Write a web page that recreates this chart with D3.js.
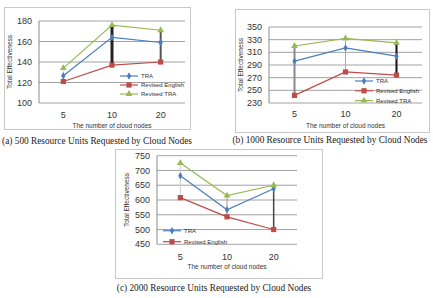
<!DOCTYPE html>
<html><head><meta charset="utf-8">
<script src="https://cdn.jsdelivr.net/npm/d3@7"></script>
<style>body{margin:0;background:#fff}svg{display:block}</style>
</head><body>
<script>
const categories = ["5", "10", "20"];
const seriesNames = ["TRA", "Revised English", "Revised TRA"];
// (a) 500 resource units
const traA = [126.5, 164, 159];
const revEngA = [121, 137, 140];
const revTraA = [134, 176, 171];
const ticksA = [100, 120, 140, 160, 180];
// (b) 1000 resource units
const traB = [296, 317, 304];
const revEngB = [242, 279, 274];
const revTraB = [320, 332, 325];
const ticksB = [230, 250, 270, 290, 310, 330, 350];
// (c) 2000 resource units
const traC = [682, 567, 638];
const revEngC = [608, 543, 500];
const revTraC = [725, 615, 650];
const ticksC = [450, 500, 550, 600, 650, 700, 750];
const captions = [
  "(a) 500 Resource Units Requested by Cloud Nodes",
  "(b) 1000 Resource Units Requested by Cloud Nodes",
  "(c) 2000 Resource Units Requested by Cloud Nodes"
];

const colors = ["#4a7ebb", "#be4b48", "#98b954"];
const W = 433, H = 298;
const svg = d3.select("body").append("svg").attr("width", W).attr("height", H);

const panels = [
  {frame:[4,7,186,122], plot:[39,21,146,82], series:[traA,revEngA,revTraA], ticks:ticksA,
   legend:{x:120,y:76,dy:9,n:3}, drop:["#ddd","#222","#555"], dropW:[1,3,2],
   tickY:115, titleY:126, yTitleX:10, caption:captions[0], capX:97, capY:141},
  {frame:[235,9,194,123], plot:[269,27,153,76], series:[traB,revEngB,revTraB], ticks:ticksB,
   legend:{x:355,y:81,dy:9.8,n:3}, drop:["#888","#aaa","#111"], dropW:[2,1,2],
   tickY:114, titleY:126, yTitleX:241, caption:captions[1], capX:330, capY:140},
  {frame:[115,149,207,129], plot:[157,155.7,140,88.6], series:[traC,revEngC,revTraC], ticks:ticksC,
   legend:{x:163,y:230.7,dy:11,n:2}, drop:["#ccc","#999","#444"], dropW:[1,1,1.5],
   tickY:257, titleY:267, yTitleX:127, caption:captions[2], capX:214, capY:288}
];

function marker(g, type, x, y, c) {
  if (type === 0) {
    g.append("path").attr("d", d3.symbol(d3.symbolDiamond, 16)()).attr("transform", `translate(${x},${y})`).attr("fill", c);
  } else if (type === 1) {
    g.append("rect").attr("x", x-2.6).attr("y", y-2.6).attr("width", 5.2).attr("height", 5.2).attr("fill", c);
  } else {
    g.append("path").attr("d", d3.symbol(d3.symbolTriangle, 20)()).attr("transform", `translate(${x},${y})`).attr("fill", c);
  }
}

panels.forEach(p => {
  const g = svg.append("g");
  const [fx, fy, fw, fh] = p.frame;
  g.append("rect").attr("x", fx+0.5).attr("y", fy+0.5).attr("width", fw).attr("height", fh)
    .attr("fill", "#fff").attr("stroke", "#c8c8c8");
  const [px, py, pw, ph] = p.plot;
  const x = d3.scaleBand().domain(categories).range([px, px+pw]);
  const y = d3.scaleLinear().domain([p.ticks[0], p.ticks[p.ticks.length-1]]).range([py+ph, py]);
  // gridlines
  g.append("g").selectAll("line").data(p.ticks).join("line")
    .attr("x1", px).attr("x2", px+pw).attr("y1", d => y(d)).attr("y2", d => y(d))
    .attr("stroke", "#8a8a8a").attr("stroke-width", 0.8);
  // y axis line
  g.append("line").attr("x1", px).attr("x2", px).attr("y1", py).attr("y2", py+ph).attr("stroke", "#8a8a8a");
  // y tick labels
  g.append("g").selectAll("text").data(p.ticks).join("text")
    .attr("x", px-7).attr("y", d => y(d)).attr("dy", "0.35em").attr("text-anchor", "end")
    .attr("font-family", "Liberation Sans, Arial, sans-serif").attr("font-size", 9).attr("fill", "#333")
    .text(d => d);
  // x tick labels
  g.append("g").selectAll("text").data(categories).join("text")
    .attr("x", d => x(d)+x.bandwidth()/2).attr("y", p.tickY).attr("dy", "0.35em").attr("text-anchor", "middle")
    .attr("font-family", "Liberation Sans, Arial, sans-serif").attr("font-size", 9).attr("fill", "#333")
    .text(d => d);
  // axis titles
  g.append("text").attr("x", px+pw/2).attr("y", p.titleY).attr("dy", "0.35em").attr("text-anchor", "middle")
    .attr("font-family", "Liberation Sans, Arial, sans-serif").attr("font-size", 6.5).attr("fill", "#333")
    .text("The number of cloud nodes");
  g.append("text").attr("transform", `translate(${p.yTitleX},${py+ph/2}) rotate(-90)`).attr("dy", "0.35em")
    .attr("text-anchor", "middle")
    .attr("font-family", "Liberation Sans, Arial, sans-serif").attr("font-size", 6.5).attr("fill", "#333")
    .text("Total Effectiveness");
  // high-low lines
  categories.forEach((c, i) => {
    const vals = p.series.map(s => s[i]);
    g.append("line").attr("x1", x(c)+x.bandwidth()/2).attr("x2", x(c)+x.bandwidth()/2)
      .attr("y1", y(d3.min(vals))).attr("y2", y(d3.max(vals)))
      .attr("stroke", p.drop[i]).attr("stroke-width", p.dropW[i]);
  });
  // series lines and markers
  const line = d3.line().x((d, i) => x(categories[i])+x.bandwidth()/2).y(d => y(d));
  p.series.forEach((s, k) => {
    g.append("path").datum(s).attr("d", line).attr("fill", "none").attr("stroke", colors[k]).attr("stroke-width", 1.2);
    s.forEach((v, i) => marker(g, k, x(categories[i])+x.bandwidth()/2, y(v), colors[k]));
  });
  // legend
  for (let k = 0; k < p.legend.n; k++) {
    const ly = p.legend.y + k*p.legend.dy;
    g.append("line").attr("x1", p.legend.x).attr("x2", p.legend.x+18).attr("y1", ly).attr("y2", ly)
      .attr("stroke", colors[k]).attr("stroke-width", 1.2);
    marker(g, k, p.legend.x+9, ly, colors[k]);
    g.append("text").attr("x", p.legend.x+21).attr("y", ly).attr("dy", "0.35em")
      .attr("font-family", "Liberation Sans, Arial, sans-serif").attr("font-size", 6).attr("fill", "#333")
      .text(seriesNames[k]);
  }
  // caption
  g.append("text").attr("x", p.capX).attr("y", p.capY).attr("dy", "0.35em").attr("text-anchor", "middle")
    .attr("font-family", "Liberation Serif, Times New Roman, serif").attr("font-size", 9.3).attr("fill", "#222")
    .text(p.caption);
});
</script>
</body></html>
